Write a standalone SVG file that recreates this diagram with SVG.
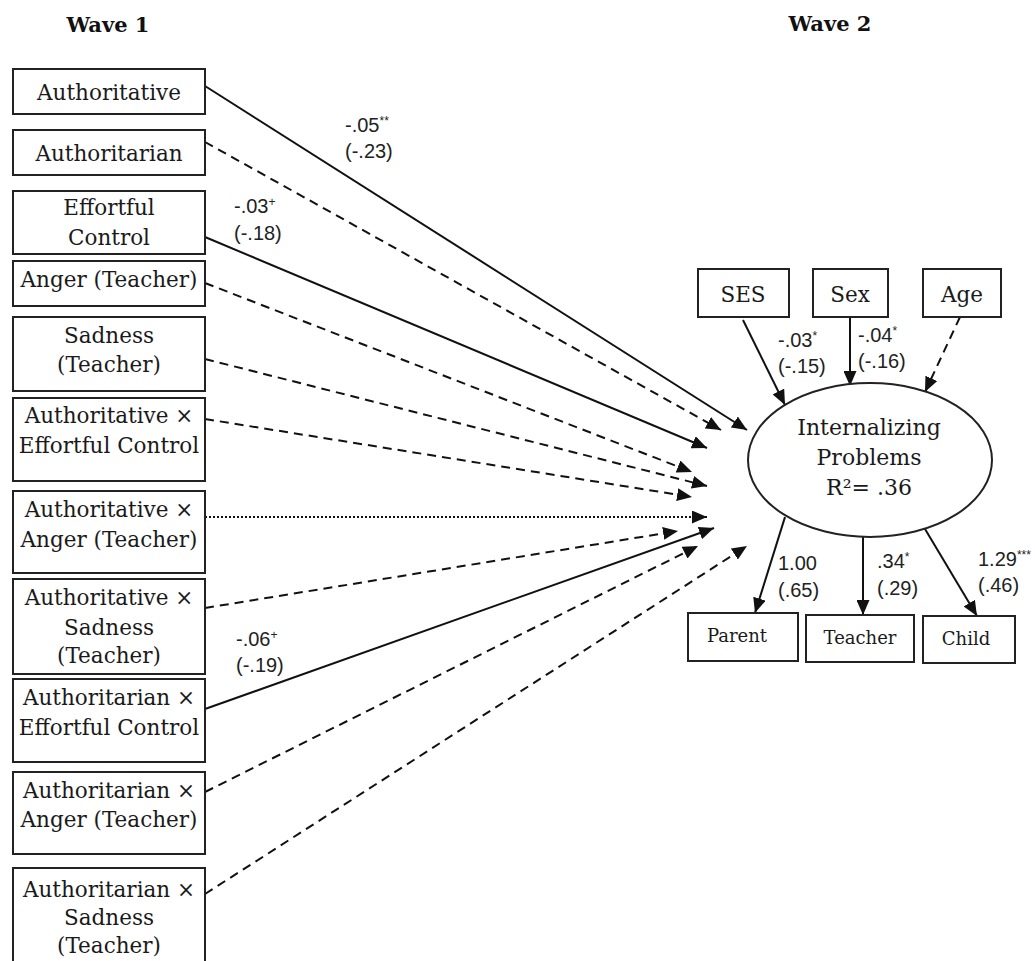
<svg xmlns="http://www.w3.org/2000/svg" width="1035" height="961" viewBox="0 0 1035 961">
<defs>
<marker id="ah" markerUnits="userSpaceOnUse" markerWidth="15" markerHeight="13" refX="15" refY="6.5" orient="auto" viewBox="0 0 15 13">
<path d="M0,0 L15,6.5 L0,13 Z" fill="#111"/>
</marker>
<style>
.box{fill:#fff;stroke:#222;stroke-width:2}
.t{font-family:"DejaVu Serif","Liberation Serif",serif;font-size:21.5px;fill:#1a1a1a;text-anchor:middle}
.te{font-family:"DejaVu Serif","Liberation Serif",serif;font-size:22px;fill:#1a1a1a;text-anchor:middle}
.ts{font-family:"DejaVu Serif","Liberation Serif",serif;font-size:18px;fill:#1a1a1a;text-anchor:middle}
.h{font-family:"DejaVu Serif","Liberation Serif",serif;font-size:21px;font-weight:bold;fill:#111;text-anchor:middle}
.lb{font-family:"Liberation Sans",Arial,sans-serif;font-size:20px;fill:#222}
.sup{font-size:12px}
.c{fill:none;stroke:#111;stroke-width:2;marker-end:url(#ah)}
.d{stroke-dasharray:9 6}
.o{stroke-dasharray:2 2}
</style>
</defs>
<rect width="1035" height="961" fill="#fff"/>
<text class="h" x="108" y="32">Wave 1</text>
<text class="h" x="830" y="31">Wave 2</text>

<g id="connectors">
<line class="c" x1="205" y1="86" x2="747" y2="430"/>
<line class="c d" x1="205" y1="142" x2="721" y2="430"/>
<line class="c" x1="205" y1="237" x2="707" y2="448"/>
<line class="c d" x1="205" y1="283" x2="692" y2="472"/>
<line class="c d" x1="205" y1="359" x2="707" y2="486"/>
<line class="c d" x1="205" y1="419" x2="692" y2="497"/>
<line class="c o" x1="205" y1="517" x2="707" y2="517"/>
<line class="c d" x1="205" y1="608" x2="678" y2="531"/>
<line class="c" x1="205" y1="709" x2="714" y2="528"/>
<line class="c d" x1="205" y1="792" x2="698" y2="546"/>
<line class="c d" x1="205" y1="894" x2="747" y2="546"/>
<line class="c" x1="743" y1="320" x2="785" y2="405"/>
<line class="c" x1="850" y1="317" x2="850" y2="386"/>
<line class="c d" x1="960" y1="317" x2="925" y2="392"/>
<line class="c" x1="785" y1="517" x2="755" y2="613"/>
<line class="c" x1="863" y1="537" x2="863" y2="615"/>
<line class="c" x1="925" y1="529" x2="977" y2="616"/>
</g>

<g id="labels">
<text class="lb" x="345" y="132">-.05<tspan class="sup" dy="-7">**</tspan></text>
<text class="lb" x="345" y="158">(-.23)</text>
<text class="lb" x="234" y="213">-.03<tspan class="sup" dy="-7">+</tspan></text>
<text class="lb" x="234" y="240">(-.18)</text>
<text class="lb" x="236" y="646">-.06<tspan class="sup" dy="-7">+</tspan></text>
<text class="lb" x="236" y="672">(-.19)</text>
<text class="lb" x="778" y="347">-.03<tspan class="sup" dy="-7">*</tspan></text>
<text class="lb" x="778" y="373">(-.15)</text>
<text class="lb" x="858" y="342">-.04<tspan class="sup" dy="-7">*</tspan></text>
<text class="lb" x="858" y="368">(-.16)</text>
<text class="lb" x="778" y="570">1.00</text>
<text class="lb" x="778" y="597">(.65)</text>
<text class="lb" x="877" y="568">.34<tspan class="sup" dy="-7">*</tspan></text>
<text class="lb" x="877" y="595">(.29)</text>
<text class="lb" x="978" y="566">1.29<tspan class="sup" dy="-7">***</tspan></text>
<text class="lb" x="978" y="592">(.46)</text>
</g>

<g id="n-authoritative"><rect class="box" x="13" y="69" width="192" height="45"/><text class="t" x="109" y="100">Authoritative</text></g>
<g id="n-authoritarian"><rect class="box" x="13" y="130" width="192" height="45"/><text class="t" x="109" y="161">Authoritarian</text></g>
<g id="n-ec"><rect class="box" x="13" y="191" width="192" height="63"/><text class="t" x="109" y="215">Effortful</text><text class="t" x="109" y="245">Control</text></g>
<g id="n-anger"><rect class="box" x="13" y="261" width="192" height="45"/><text class="t" x="109" y="287">Anger (Teacher)</text></g>
<g id="n-sadness"><rect class="box" x="13" y="317" width="192" height="74"/><text class="t" x="109" y="343">Sadness</text><text class="t" x="109" y="372">(Teacher)</text></g>
<g id="n-auth-ec"><rect class="box" x="13" y="398" width="192" height="83"/><text class="t" x="109" y="423">Authoritative ×</text><text class="t" x="109" y="453">Effortful Control</text></g>
<g id="n-auth-anger"><rect class="box" x="13" y="491" width="192" height="82"/><text class="t" x="109" y="517">Authoritative ×</text><text class="t" x="109" y="547">Anger (Teacher)</text></g>
<g id="n-auth-sad"><rect class="box" x="13" y="579" width="192" height="95"/><text class="t" x="109" y="605">Authoritative ×</text><text class="t" x="109" y="635">Sadness</text><text class="t" x="109" y="663">(Teacher)</text></g>
<g id="n-authn-ec"><rect class="box" x="13" y="679" width="192" height="83"/><text class="t" x="109" y="705">Authoritarian ×</text><text class="t" x="109" y="735">Effortful Control</text></g>
<g id="n-authn-anger"><rect class="box" x="13" y="772" width="192" height="82"/><text class="t" x="109" y="798">Authoritarian ×</text><text class="t" x="109" y="827">Anger (Teacher)</text></g>
<g id="n-authn-sad"><rect class="box" x="13" y="868" width="192" height="110"/><text class="t" x="109" y="897">Authoritarian ×</text><text class="t" x="109" y="925">Sadness</text><text class="t" x="109" y="953">(Teacher)</text></g>

<g id="n-ses"><rect class="box" x="698" y="269" width="91" height="48"/><text class="t" x="743" y="302">SES</text></g>
<g id="n-sex"><rect class="box" x="813" y="269" width="75" height="48"/><text class="t" x="850" y="302">Sex</text></g>
<g id="n-age"><rect class="box" x="923" y="269" width="78" height="48"/><text class="t" x="962" y="302">Age</text></g>

<g id="n-internalizing"><ellipse cx="870" cy="460" rx="122" ry="77" fill="#fff" stroke="#222" stroke-width="2"/><text class="te" x="869" y="435">Internalizing</text><text class="te" x="869" y="465">Problems</text><text class="te" x="869" y="495">R²= .36</text></g>

<g id="n-parent"><rect class="box" x="688" y="613" width="110" height="48"/><text class="ts" x="737" y="642">Parent</text></g>
<g id="n-teacher"><rect class="box" x="806" y="615" width="108" height="47"/><text class="ts" x="860" y="644">Teacher</text></g>
<g id="n-child"><rect class="box" x="923" y="616" width="92" height="47"/><text class="ts" x="966" y="645">Child</text></g>
</svg>
